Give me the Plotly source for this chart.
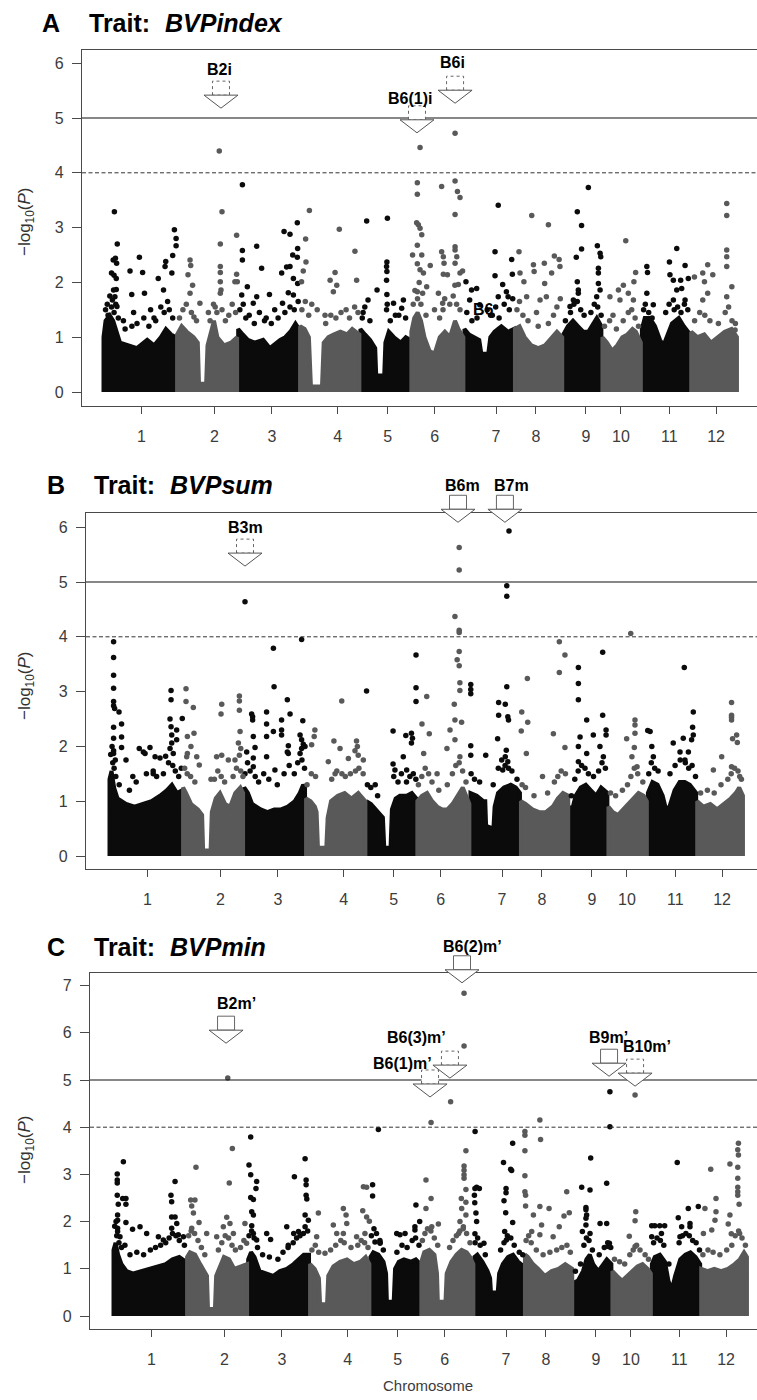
import plotly.graph_objects as go

# ---------------------------------------------------------------- genome layout
CHROM_LEN = [43.27, 35.94, 36.41, 35.50, 29.96, 31.25, 29.70, 28.44, 23.01, 23.21, 29.02, 27.53]
CHROM_TICK = [22.6, 65.5, 99.4, 138.0, 167.4, 195.1, 231.2, 254.7, 284.1, 304.7, 333.1, 360.6]
CHROM_LABEL = [str(i) for i in range(1, 13)]
CHROM_START = [sum(CHROM_LEN[:i]) for i in range(12)]
COLORS = ["#0b0b0b", "#595959"]          # odd / even chromosomes

# ------------------------------------------------ dense SNP core per chromosome
# (position within chromosome in Mb, upper edge of the dense cloud in -log10 P)
A_CORE = [
    [(0.3, 1.0), (1.5, 1.3), (4, 1.4), (6, 1.3), (8, 1.1), (10, 0.9), (15, 0.85), (20, 0.8), (26, 0.95), (30, 0.85), (34, 1.0), (37, 1.15), (40, 1.05), (43.0, 1.0)],
    [(0.3, 1.05), (3, 1.2), (6, 1.1), (10, 1.0), (12.5, 0.9), (13.2, 0.15), (17.4, 0.15), (18.2, 0.85), (20, 1.05), (22, 1.3), (24, 1.0), (28, 0.85), (32, 0.9), (35.6, 1.0)],
    [(0.3, 1.15), (3, 1.05), (6, 0.95), (10, 0.9), (15, 0.95), (19, 0.8), (21, 0.85), (25, 0.95), (28, 1.0), (31, 1.1), (34, 1.25), (36.1, 1.15)],
    [(0.3, 1.2), (3, 1.15), (5.5, 1.0), (6.7, 0.1), (13.2, 0.1), (14.2, 0.9), (17, 1.0), (20, 1.05), (24, 1.1), (28, 1.05), (31, 1.15), (35.2, 1.05)],
    [(0.3, 1.15), (3, 1.05), (6, 0.95), (9, 0.8), (9.6, 0.3), (14.3, 0.3), (15, 0.9), (17, 1.1), (20, 1.0), (24, 0.9), (27, 1.0), (29.7, 0.95)],
    [(0.3, 1.1), (2, 1.35), (4, 1.45), (6, 1.3), (8, 1.0), (11, 0.75), (14, 0.7), (17, 1.0), (20, 1.1), (23, 1.0), (26, 1.3), (28, 1.15), (30.9, 1.0)],
    [(0.3, 1.15), (3, 1.05), (6, 1.0), (9, 0.95), (10.2, 0.7), (14.3, 0.7), (15.5, 1.0), (18, 1.1), (22, 1.2), (26, 1.1), (29.4, 1.15)],
    [(0.3, 1.15), (3, 1.2), (6, 1.0), (10, 0.85), (14, 0.8), (18, 0.85), (22, 1.0), (25, 1.1), (28.1, 1.0)],
    [(0.3, 1.05), (3, 1.2), (6, 1.3), (9, 1.2), (12, 1.1), (15, 1.1), (18, 1.25), (20, 1.35), (22.7, 1.2)],
    [(0.3, 1.0), (3, 0.9), (6, 0.75), (9, 0.85), (12, 1.0), (15, 1.05), (18, 1.15), (20, 1.1), (22.9, 0.9)],
    [(0.3, 1.15), (2, 1.35), (5, 1.35), (8, 1.2), (11, 0.95), (13, 0.85), (15, 1.0), (18, 1.25), (22, 1.35), (25, 1.2), (28.7, 1.05)],
    [(0.3, 1.1), (4, 1.0), (8, 1.05), (12, 0.9), (16, 1.0), (20, 1.1), (24, 1.15), (27.2, 1.0)],
]
B_CORE = [
    [(0.3, 1.4), (1.5, 1.55), (3, 1.25), (5, 1.05), (10, 0.95), (15, 0.9), (20, 0.95), (25, 1.0), (30, 1.1), (34, 1.2), (37, 1.3), (40, 1.15), (43.0, 1.2)],
    [(0.3, 1.25), (2, 1.15), (5, 0.95), (9, 0.85), (11.5, 0.75), (12.1, 0.1), (16.5, 0.1), (17.2, 0.8), (19.5, 1.05), (22, 1.15), (25, 0.95), (28, 0.9), (31, 1.15), (34, 1.25), (35.6, 1.15)],
    [(0.3, 1.25), (2.5, 1.15), (5, 0.95), (10, 0.85), (14, 0.8), (18, 0.85), (22, 0.85), (26, 0.9), (30, 1.0), (33, 1.15), (35, 1.3), (36.1, 1.25)],
    [(0.3, 1.05), (3, 1.0), (5.5, 0.9), (6.5, 0.8), (7.3, 0.15), (12.2, 0.15), (13, 0.7), (15, 1.0), (19, 1.1), (23, 1.15), (27, 1.05), (31, 1.15), (35.2, 1.0)],
    [(0.3, 1.0), (3, 0.95), (6, 0.85), (9, 0.75), (10, 0.7), (10.8, 0.15), (14.5, 0.15), (15.3, 0.85), (17.5, 1.05), (20, 1.1), (24, 1.1), (27, 1.15), (29.7, 1.05)],
    [(0.3, 1.0), (3, 1.1), (6, 1.15), (9, 1.0), (12, 0.9), (15, 0.85), (18, 0.85), (21, 0.95), (24, 1.1), (27, 1.25), (29, 1.1), (30.9, 0.95)],
    [(0.3, 1.15), (4, 1.1), (8, 1.0), (9, 1.0), (9.5, 0.55), (13.8, 0.5), (14.5, 0.9), (16.5, 1.15), (20, 1.25), (24, 1.3), (27, 1.25), (29.4, 1.15)],
    [(0.3, 1.0), (3, 0.95), (7, 0.85), (11, 0.8), (15, 0.8), (19, 0.9), (22, 1.05), (25, 1.15), (28.1, 1.1)],
    [(0.3, 0.9), (2, 0.85), (4, 1.1), (7, 1.25), (10, 1.3), (13, 1.2), (16, 1.1), (19, 1.25), (22.7, 1.15)],
    [(0.3, 0.9), (3, 0.8), (6, 0.75), (9, 0.85), (12, 0.95), (15, 1.05), (18, 1.15), (21, 1.1), (22.9, 1.0)],
    [(0.3, 1.15), (3, 1.35), (6, 1.3), (9, 1.1), (11, 0.85), (13, 0.9), (16, 1.2), (19, 1.35), (22, 1.35), (25, 1.3), (28.7, 1.15)],
    [(0.3, 1.0), (4, 0.9), (8, 0.95), (12, 0.85), (16, 0.95), (20, 1.05), (23, 1.15), (25, 1.25), (27.2, 1.1)],
]
C_CORE = [
    [(0.3, 1.4), (1.5, 1.55), (3, 1.3), (5, 1.1), (8, 0.95), (12, 0.9), (17, 0.95), (22, 1.0), (27, 1.05), (31, 1.1), (35, 1.2), (39, 1.25), (43.0, 1.15)],
    [(0.3, 1.25), (2, 1.35), (5, 1.3), (8, 1.1), (11, 0.9), (12, 0.85), (12.6, 0.15), (16.7, 0.15), (17.4, 0.85), (19.5, 1.05), (22, 1.25), (25, 1.2), (28, 1.0), (32, 1.05), (35.6, 1.1)],
    [(0.3, 1.2), (2, 1.35), (4, 1.25), (7, 0.95), (11, 0.9), (15, 0.85), (19, 0.95), (23, 1.0), (27, 1.1), (30, 1.2), (33, 1.3), (36.1, 1.3)],
    [(0.3, 1.1), (3, 1.0), (5.5, 0.8), (6.2, 0.25), (10.3, 0.25), (11, 0.85), (14, 1.05), (18, 1.15), (22, 1.2), (26, 1.1), (30, 1.15), (33, 1.25), (35.2, 1.1)],
    [(0.3, 1.25), (2, 1.35), (5, 1.3), (8, 1.15), (9.5, 0.9), (10.0, 0.3), (14.0, 0.3), (14.8, 1.0), (17, 1.15), (20, 1.2), (24, 1.15), (27, 1.2), (29.7, 1.1)],
    [(0.3, 1.15), (2, 1.35), (5, 1.4), (8, 1.3), (9.5, 0.9), (10.0, 0.3), (14.5, 0.3), (15.2, 0.9), (18, 1.15), (21, 1.3), (24, 1.4), (27, 1.35), (29, 1.25), (30.9, 1.1)],
    [(0.3, 1.25), (2, 1.3), (5, 1.15), (8, 0.95), (9.5, 0.8), (10.0, 0.5), (14.0, 0.5), (14.8, 0.9), (17, 1.1), (20, 1.25), (23, 1.3), (26, 1.15), (29.4, 1.05)],
    [(0.3, 1.3), (2, 1.25), (5, 1.1), (8, 1.0), (12, 0.85), (16, 0.95), (20, 1.0), (24, 1.1), (28.1, 1.0)],
    [(0.3, 0.7), (3, 0.75), (6, 0.95), (8, 1.2), (10, 1.3), (12, 1.1), (15, 0.95), (18, 1.1), (20, 1.2), (22.7, 1.1)],
    [(0.3, 0.95), (3, 0.85), (6, 0.75), (9, 0.85), (12, 0.95), (15, 1.05), (18, 1.1), (21, 1.0), (22.9, 0.9)],
    [(0.3, 1.1), (2, 1.25), (5, 1.3), (8, 1.15), (10, 0.75), (12, 0.55), (14, 0.85), (17, 1.2), (20, 1.3), (23, 1.35), (26, 1.25), (28.7, 1.1)],
    [(0.3, 1.0), (4, 0.95), (8, 1.0), (12, 0.95), (16, 1.0), (20, 1.1), (23, 1.2), (25.5, 1.35), (27.2, 1.25)],
]

# ------------------------------- individual SNPs above the core (genome Mb, -log10 P)
A_HITS = {
    1: [(6.7, 3.29), (8.4, 2.70), (6.0, 2.41), (7.3, 2.44), (8.0, 2.35), (5.0, 2.17), (6.5, 2.13), (7.8, 2.07), (6.2, 1.86), (7.8, 1.87), (7.0, 1.74), (5.5, 1.68), (8.2, 1.56),
        (15.9, 2.21), (16.9, 1.78), (21.4, 2.46), (23.3, 2.18), (24.4, 1.80), (32.5, 2.07), (36.9, 2.38), (36.5, 2.29), (35.6, 1.86), (41.0, 2.49), (40.5, 2.17), (42.0, 2.96),
        (43.0, 2.80), (43.0, 2.67), (12.0, 1.30), (18.0, 1.45), (28.0, 1.50), (30.0, 1.35), (38.0, 1.65), (3.0, 1.40)],
    2: [(51.2, 2.41), (51.6, 2.31), (50.0, 2.14), (52.7, 1.95), (51.2, 1.80), (57.0, 1.62), (53.5, 1.37), (68.4, 4.40), (70.0, 3.29), (69.0, 2.70), (69.0, 2.29), (69.0, 2.18),
        (69.0, 2.01), (69.4, 1.86), (69.0, 1.80), (78.6, 2.86), (78.6, 2.15), (79.0, 2.01), (77.6, 2.01), (62.0, 1.45), (66.0, 1.55), (74.0, 1.40)],
    3: [(82.0, 3.78), (82.0, 2.58), (82.0, 2.41), (84.9, 1.92), (81.6, 1.77), (90.4, 2.66), (93.3, 2.26), (90.4, 1.74), (88.4, 1.62), (97.9, 1.78), (106.5, 2.93), (110.0, 2.88),
        (114.3, 3.09), (114.5, 2.62), (114.3, 2.46), (111.6, 2.50), (108.0, 2.28), (110.0, 2.29), (105.1, 2.17), (112.0, 2.07), (114.5, 1.98), (109.0, 1.81), (112.0, 1.77),
        (105.6, 1.62), (86.0, 1.40), (96.0, 1.35), (101.0, 1.50)],
    4: [(121.4, 3.31), (119.2, 2.79), (119.4, 2.37), (117.8, 2.21), (116.8, 2.01), (122.8, 1.60), (139.0, 2.97), (136.5, 2.18), (137.5, 1.95), (133.6, 2.04), (148.2, 2.57),
        (149.2, 2.04), (135.5, 1.83), (130.6, 1.40), (143.0, 1.50), (126.0, 1.50)],
    5: [(155.1, 3.12), (167.3, 3.17), (167.0, 2.37), (166.8, 2.29), (167.0, 2.20), (166.8, 2.04), (161.2, 1.86), (155.9, 1.68), (167.0, 1.78), (176.7, 1.68), (170.9, 1.62),
        (175.7, 1.53), (153.0, 1.45), (172.0, 1.40)],
    6: [(186.5, 4.46), (184.9, 3.82), (184.9, 3.61), (199.2, 3.75), (184.5, 3.09), (185.5, 3.05), (186.5, 2.99), (187.5, 2.87), (184.9, 2.68), (182.1, 2.50), (187.5, 2.50),
        (184.9, 2.34), (186.5, 2.23), (188.5, 2.17), (192.5, 2.31), (199.2, 2.56), (200.2, 2.47), (200.6, 2.35), (200.2, 2.15), (202.6, 2.14), (190.4, 1.92), (184.9, 1.83),
        (197.3, 1.80), (199.8, 1.62), (207.1, 4.72), (207.1, 3.85), (208.5, 3.66), (210.0, 3.55), (207.1, 3.24), (207.1, 2.65), (207.1, 2.59), (208.1, 2.47), (207.1, 2.35),
        (210.0, 2.17), (211.5, 2.21), (209.0, 1.96), (195.0, 1.50), (204.0, 1.60)],
    7: [(232.5, 3.41), (230.6, 2.56), (230.6, 2.12), (235.1, 1.96), (240.4, 2.42), (240.8, 2.15), (213.5, 2.01), (216.8, 1.86), (219.8, 1.89), (215.7, 1.68), (221.6, 1.59),
        (237.3, 1.83), (238.3, 1.74), (232.5, 1.74), (226.0, 1.50), (228.0, 1.40)],
    8: [(252.2, 3.22), (262.0, 3.05), (244.7, 2.56), (253.2, 2.32), (253.6, 2.20), (259.6, 2.35), (265.5, 2.48), (268.3, 2.42), (268.8, 2.29), (247.6, 2.01), (245.3, 2.17),
        (259.8, 1.98), (260.8, 1.74), (249.2, 1.74), (257.1, 1.68), (263.9, 2.17), (255.0, 1.45)],
    9: [(285.5, 3.73), (279.0, 3.29), (281.5, 3.04), (281.5, 2.61), (278.4, 2.46), (290.8, 2.67), (292.4, 2.53), (292.8, 2.47), (291.4, 2.26), (291.4, 2.17), (279.0, 2.01),
        (279.6, 1.86), (279.6, 1.80), (291.4, 1.98), (292.4, 1.86), (290.4, 1.74), (276.7, 1.68), (274.7, 1.56)],
    10: [(307.5, 2.76), (313.3, 2.18), (312.3, 2.01), (306.1, 1.95), (303.2, 1.86), (309.0, 1.80), (298.2, 1.74), (304.1, 1.68), (312.0, 1.68), (300.0, 1.40)],
    11: [(337.5, 2.62), (319.9, 2.29), (320.3, 2.18), (333.2, 2.37), (333.5, 2.14), (342.4, 2.31), (335.5, 2.04), (339.8, 2.04), (340.4, 1.89), (337.5, 1.86), (344.3, 2.07),
         (319.9, 1.80), (323.7, 1.59), (335.5, 1.68), (342.4, 1.68)],
    12: [(366.9, 3.44), (366.9, 3.22), (366.9, 2.59), (366.9, 2.47), (366.9, 2.29), (369.9, 1.92), (355.7, 2.32), (358.7, 2.14), (352.8, 2.17), (353.8, 2.01), (347.9, 2.10),
         (366.9, 1.74), (355.7, 1.80), (352.8, 1.68), (371.8, 1.13)],
}
B_HITS = {
    1: [(2.7, 3.91), (2.7, 3.62), (2.7, 3.30), (2.7, 3.06), (2.7, 2.82), (2.7, 2.74), (3.3, 2.69), (5.9, 2.63), (2.7, 2.35), (7.4, 2.41), (2.7, 2.15), (7.4, 2.17), (7.4, 1.98),
        (2.7, 1.92), (2.7, 1.87), (3.7, 1.75), (10.0, 1.75), (17.8, 1.96), (20.2, 1.90), (24.1, 1.98), (21.2, 1.87), (27.1, 1.81), (30.0, 1.79), (33.3, 1.82), (36.5, 3.02),
        (36.5, 2.85), (35.9, 2.50), (36.5, 2.36), (39.8, 2.30), (36.9, 2.21), (39.8, 2.12), (36.9, 2.06), (35.9, 1.96), (37.8, 1.87), (43.1, 2.51), (14.0, 1.45), (26.0, 1.5)],
    2: [(45.3, 3.05), (45.3, 2.82), (49.6, 2.71), (50.0, 2.24), (46.1, 2.18), (48.2, 2.00), (53.1, 1.66), (46.1, 1.87), (45.7, 1.81), (51.6, 1.81), (66.3, 2.77), (65.9, 2.59),
        (66.3, 1.84), (63.3, 1.81), (76.7, 2.92), (76.7, 2.83), (76.7, 2.66), (77.1, 2.27), (76.1, 2.06), (77.5, 1.96), (76.7, 1.84), (74.1, 1.75), (70.2, 1.75), (60.0, 1.4)],
    3: [(80.0, 4.64), (96.7, 3.79), (113.3, 3.95), (97.1, 3.09), (104.9, 2.85), (106.5, 2.59), (114.0, 2.47), (92.7, 2.63), (92.7, 2.41), (83.9, 2.59), (84.5, 2.54), (84.5, 2.48),
        (101.5, 2.48), (101.5, 2.30), (96.7, 2.27), (101.5, 2.21), (92.7, 2.18), (84.9, 2.18), (85.9, 1.98), (81.0, 1.90), (84.9, 1.79), (105.5, 2.01), (104.9, 1.90),
        (105.5, 1.87), (112.4, 2.21), (113.3, 2.12), (114.3, 2.04), (113.3, 1.96), (115.3, 2.00), (112.4, 1.87), (92.7, 1.81), (97.6, 1.57), (84.9, 1.63)],
    4: [(121.1, 2.30), (120.7, 2.18), (119.2, 2.03), (136.9, 2.83), (132.3, 2.10), (135.9, 1.96), (145.6, 2.10), (146.1, 2.00), (144.7, 1.92), (129.0, 1.72), (140.8, 1.78),
        (149.6, 1.75), (146.6, 1.84), (133.0, 1.5)],
    5: [(151.5, 3.01), (180.6, 3.67), (180.6, 3.07), (180.6, 2.82), (167.1, 2.28), (174.6, 2.20), (177.9, 2.24), (178.5, 2.15), (177.9, 2.06), (167.1, 1.68), (168.2, 1.57),
        (173.1, 1.81), (175.1, 1.57), (156.6, 1.30)],
    6: [(206.0, 5.63), (206.0, 5.22), (203.5, 4.37), (206.0, 4.12), (206.0, 4.08), (206.0, 3.73), (204.8, 3.58), (206.0, 3.47), (206.4, 3.16), (206.4, 3.02), (203.1, 2.77),
        (203.5, 2.48), (207.4, 2.44), (200.6, 2.30), (186.9, 2.91), (184.1, 2.41), (188.4, 2.23), (185.1, 1.87), (198.8, 1.96), (203.5, 2.12), (206.4, 1.81), (193.0, 1.5)],
    7: [(235.3, 5.93), (234.0, 4.93), (234.0, 4.74), (212.8, 3.13), (212.8, 3.04), (212.8, 2.96), (234.0, 3.09), (229.2, 2.80), (233.1, 2.77), (229.2, 2.57), (234.6, 2.54),
        (235.0, 2.48), (228.6, 2.14), (212.8, 2.01), (212.8, 1.84), (221.6, 1.84), (233.7, 1.93), (233.1, 1.81), (234.6, 1.72), (231.6, 1.57)],
    8: [(246.1, 3.24), (242.8, 2.63), (246.3, 2.44), (242.5, 2.28), (245.5, 1.87), (261.4, 2.23), (264.9, 3.35), (268.2, 3.67), (264.9, 3.91), (268.2, 1.98), (255.0, 1.45)],
    9: [(276.1, 3.44), (276.1, 3.15), (276.1, 2.85), (281.0, 2.48), (277.1, 2.17), (276.1, 2.00), (284.9, 2.21), (290.4, 3.72), (290.4, 2.57), (292.4, 2.30), (292.4, 2.21),
        (288.8, 2.00), (290.8, 1.81), (281.0, 1.87), (276.1, 1.72)],
    10: [(306.9, 4.06), (309.4, 2.48), (309.4, 2.39), (309.4, 2.24), (304.5, 2.14), (309.0, 1.98), (307.6, 1.81), (310.6, 1.63)],
    11: [(338.4, 3.44), (343.7, 2.63), (343.3, 2.35), (343.7, 2.21), (342.7, 2.12), (337.8, 2.15), (331.9, 2.06), (316.9, 2.29), (318.3, 2.27), (319.3, 2.00), (320.2, 1.81),
         (335.9, 1.90), (340.8, 1.90), (338.8, 1.75)],
    12: [(366.2, 2.80), (366.2, 2.57), (366.2, 2.53), (366.2, 2.48), (369.2, 2.21), (369.6, 2.07), (366.8, 2.14), (360.4, 1.81), (366.2, 1.63), (355.5, 1.57), (371.0, 1.45)],
}
C_HITS = {
    1: [(6.1, 3.27), (2.5, 3.01), (2.5, 2.88), (2.5, 2.82), (2.5, 2.56), (3.1, 2.37), (5.7, 2.49), (7.6, 2.49), (7.6, 2.37), (2.7, 2.14), (2.7, 2.03), (7.6, 1.98), (2.7, 1.86),
        (2.7, 1.79), (4.1, 1.68), (11.5, 1.84), (15.9, 1.89), (19.8, 1.75), (26.7, 1.68), (29.6, 1.61), (36.5, 2.85), (34.1, 2.56), (34.5, 2.42), (34.5, 2.10), (36.5, 2.10),
        (37.5, 1.96), (34.5, 1.86), (38.4, 1.72), (41.4, 1.68)],
    2: [(48.8, 3.15), (45.7, 2.46), (48.2, 2.46), (46.3, 2.33), (47.3, 2.18), (50.6, 1.98), (46.3, 1.86), (55.1, 1.75), (70.2, 3.55), (68.4, 2.82), (66.9, 2.09), (68.8, 1.96),
        (64.9, 1.89), (70.8, 1.75), (61.0, 1.68), (77.6, 1.96), (78.6, 1.54), (67.5, 5.04)],
    3: [(81.0, 3.79), (80.0, 3.20), (81.0, 2.99), (84.5, 2.85), (84.1, 2.70), (81.0, 2.51), (82.6, 2.47), (81.6, 2.21), (82.6, 2.14), (81.6, 1.91), (82.6, 1.75), (84.5, 1.61),
        (90.4, 1.75), (92.7, 1.62), (106.7, 2.95), (113.0, 3.33), (113.6, 2.88), (113.6, 2.78), (113.6, 2.56), (114.0, 2.48), (113.0, 2.14), (114.9, 2.03), (113.0, 1.89),
        (102.2, 1.89), (106.3, 1.75), (109.1, 1.79), (103.1, 1.50)],
    4: [(120.8, 2.18), (119.8, 1.68), (135.5, 2.28), (137.1, 2.14), (137.5, 1.96), (129.6, 1.93), (131.6, 1.75), (135.5, 1.75), (147.3, 2.74), (149.2, 2.73), (146.9, 2.23),
        (149.2, 2.10), (150.8, 2.01), (148.2, 1.75), (143.3, 1.68), (124.7, 1.33)],
    5: [(156.1, 3.95), (152.7, 2.78), (152.7, 2.54), (157.1, 1.56), (166.9, 1.75), (178.2, 2.35), (177.6, 1.89), (177.6, 1.82), (180.4, 2.00), (168.8, 1.72), (171.8, 1.75),
        (154.1, 1.57), (157.1, 1.54)],
    6: [(187.1, 4.10), (198.6, 4.54), (206.5, 6.84), (206.5, 5.72), (184.1, 2.88), (187.1, 2.49), (184.1, 2.28), (191.4, 1.95), (187.5, 1.89), (207.6, 3.50), (206.5, 3.18),
        (206.5, 3.09), (206.5, 2.99), (206.5, 2.92), (207.6, 2.68), (204.9, 2.49), (207.6, 2.41), (205.1, 2.28), (207.6, 2.14), (204.1, 2.00), (206.1, 1.89), (203.3, 1.75)],
    7: [(213.0, 3.91), (213.9, 2.73), (212.9, 2.70), (215.5, 2.70), (212.6, 2.56), (212.8, 2.40), (213.5, 2.18), (213.9, 2.00), (212.9, 1.74), (235.1, 3.66), (229.7, 3.25),
        (233.9, 3.11), (234.5, 3.08), (231.2, 2.70), (231.2, 2.61), (230.0, 2.44), (231.0, 2.19), (235.1, 1.98), (230.4, 1.79), (231.4, 1.61), (218.2, 1.54)],
    8: [(251.1, 4.15), (242.3, 3.91), (242.3, 3.83), (251.5, 3.74), (242.3, 3.50), (242.3, 2.97), (242.3, 2.63), (242.7, 2.56), (242.7, 2.33), (251.1, 2.32), (256.5, 2.28),
        (247.3, 2.14), (268.4, 2.19), (265.3, 2.12), (266.9, 2.63), (262.5, 1.89), (252.1, 1.93), (246.3, 1.79), (251.1, 1.72), (258.9, 1.68)],
    9: [(292.3, 4.75), (292.3, 4.01), (290.4, 2.81), (281.0, 3.35), (275.7, 2.73), (280.6, 2.67), (278.2, 2.30), (278.2, 2.25), (278.6, 2.14), (278.2, 2.07), (278.2, 1.93),
        (276.1, 1.79), (280.6, 1.75), (286.5, 1.96), (290.4, 1.96), (292.0, 1.54), (291.4, 1.47)],
    10: [(307.1, 4.68), (307.5, 2.21), (307.1, 2.02), (303.7, 1.69), (307.1, 1.47)],
    11: [(331.9, 3.25), (332.5, 2.08), (338.4, 2.28), (344.3, 2.32), (339.4, 1.96), (339.4, 1.89), (316.9, 1.91), (318.7, 1.91), (321.6, 1.91), (324.5, 1.91), (316.9, 1.68),
         (322.6, 1.75), (334.5, 1.89), (333.5, 1.68)],
    12: [(367.9, 3.66), (367.5, 3.52), (367.9, 3.41), (362.9, 3.22), (351.6, 3.11), (367.5, 3.15), (367.5, 2.92), (367.5, 2.73), (367.5, 2.63), (367.5, 2.56), (368.3, 2.37),
         (354.7, 2.49), (354.7, 2.21), (348.2, 2.28), (354.1, 2.03), (362.9, 2.14), (361.9, 1.95), (352.2, 1.82), (368.6, 1.75), (363.7, 1.74), (347.3, 1.75)],
}

# ----------------------------------- looser SNP cloud just above the core (genome Mb, -log10 P)
A_CLOUD = {
    1: [(1.5, 1.5), (2.5, 1.6), (4, 1.75), (5, 1.55), (6.5, 1.45), (7.5, 1.6), (3.5, 1.3), (9, 1.35), (13, 1.15), (17, 1.2), (20, 1.25), (24, 1.35), (27, 1.2), (31, 1.3),
        (34, 1.55), (36, 1.45), (39, 1.5), (41, 1.35)],
    2: [(45, 1.35), (47, 1.5), (49, 1.6), (52, 1.45), (55, 1.3), (63, 1.3), (65, 1.6), (67, 1.45), (70, 1.5), (72, 1.3), (76, 1.6), (78, 1.45)],
    3: [(80.5, 1.5), (82.5, 1.6), (84, 1.35), (89, 1.25), (92, 1.45), (95, 1.3), (99, 1.25), (103, 1.35), (107, 1.45), (110, 1.55), (112.5, 1.5), (114.8, 1.65)],
    4: [(117, 1.5), (119, 1.65), (121, 1.4), (131, 1.25), (134, 1.4), (137, 1.35), (140, 1.45), (145, 1.35), (148, 1.55), (150, 1.45)],
    5: [(152.5, 1.35), (154, 1.55), (157, 1.3), (166.8, 1.5), (167.2, 1.6), (169, 1.3), (174, 1.4), (178, 1.35)],
    6: [(182.5, 1.6), (183.5, 1.85), (185, 1.7), (186, 2.0), (187, 1.6), (188, 1.8), (190, 1.4), (198, 1.35), (200, 1.5), (201, 1.7), (206, 1.75), (207, 1.95), (208, 1.6), (210, 1.5)],
    7: [(214, 1.45), (217, 1.3), (220, 1.35), (229, 1.4), (231, 1.55), (233, 1.35), (236, 1.6), (239, 1.5), (241, 1.7)],
    8: [(243.5, 1.5), (245, 1.65), (247, 1.4), (250, 1.3), (256, 1.2), (262, 1.25), (265, 1.4), (267, 1.55), (269, 1.7)],
    9: [(272, 1.3), (275, 1.45), (277, 1.6), (279, 1.65), (281, 1.5), (283, 1.4), (287, 1.45), (289, 1.6), (291, 1.55), (293, 1.4)],
    10: [(295, 1.2), (298, 1.3), (302, 1.15), (306, 1.3), (309, 1.45), (311, 1.5), (313, 1.35), (315, 1.2)],
    11: [(318, 1.5), (319, 1.6), (321, 1.45), (323, 1.35), (331, 1.45), (333, 1.6), (336, 1.5), (338, 1.55), (340, 1.45), (342, 1.6), (344, 1.5)],
    12: [(348, 1.3), (351, 1.45), (354, 1.4), (357, 1.3), (362, 1.25), (366, 1.45), (368, 1.55), (370, 1.3), (372, 1.25)],
}
B_CLOUD = {
    1: [(1, 1.85), (1.8, 2.0), (2.2, 1.7), (3, 1.6), (4, 1.45), (6, 1.3), (12, 1.2), (16, 1.35), (22, 1.5), (26, 1.55), (28, 1.45), (32, 1.5), (35, 1.7), (37.5, 1.65),
        (39, 1.55), (41, 1.45), (42.5, 1.6)],
    2: [(44.5, 1.6), (46, 1.5), (48, 1.45), (50.5, 1.35), (62, 1.4), (64, 1.55), (66, 1.45), (68, 1.35), (73, 1.45), (75, 1.6), (77.5, 1.55), (78.8, 1.45)],
    3: [(80, 1.5), (81.5, 1.7), (83, 1.55), (86, 1.45), (88, 1.35), (91, 1.5), (94, 1.4), (99, 1.3), (103, 1.5), (106, 1.65), (109, 1.5), (111, 1.7), (113.5, 1.75), (115, 1.6)],
    4: [(116.5, 1.3), (119, 1.5), (121.5, 1.45), (131, 1.4), (134, 1.55), (137, 1.5), (139, 1.45), (142, 1.5), (145, 1.55), (147, 1.6), (149.5, 1.5)],
    5: [(152, 1.3), (154, 1.25), (158, 1.1), (167.5, 1.45), (170, 1.35), (172, 1.5), (175, 1.35), (177, 1.45), (179, 1.5), (180.5, 1.4)],
    6: [(182, 1.3), (184, 1.45), (186, 1.6), (188, 1.5), (190, 1.35), (194, 1.2), (199, 1.3), (202, 1.5), (204, 1.65), (206, 1.7), (208, 1.55), (210, 1.35)],
    7: [(213, 1.5), (215, 1.4), (218, 1.35), (226, 1.3), (229, 1.6), (231, 1.75), (233, 1.65), (235, 1.6), (237, 1.55), (240, 1.4)],
    8: [(243, 1.3), (245, 1.25), (250, 1.1), (258, 1.15), (262, 1.35), (264, 1.45), (266, 1.55), (268.5, 1.5)],
    9: [(272, 1.1), (274, 1.4), (276, 1.55), (278, 1.65), (280, 1.6), (282, 1.5), (285, 1.45), (288, 1.55), (290, 1.7), (292, 1.6)],
    10: [(295, 1.15), (298, 1.1), (302, 1.2), (305, 1.3), (307, 1.45), (309, 1.6), (311, 1.5), (314, 1.35)],
    11: [(317.5, 1.5), (319, 1.7), (321, 1.6), (323, 1.55), (330, 1.5), (333, 1.65), (336, 1.75), (339, 1.7), (341, 1.6), (343, 1.65), (345, 1.45)],
    12: [(348, 1.15), (352, 1.2), (356, 1.15), (360, 1.3), (364, 1.4), (366, 1.5), (368, 1.6), (370, 1.55), (372, 1.4)],
}
C_CLOUD = {
    1: [(1, 1.9), (1.8, 2.0), (2.2, 1.7), (3.5, 1.55), (5, 1.45), (7, 1.5), (10, 1.3), (14, 1.35), (18, 1.3), (22, 1.4), (25, 1.45), (28, 1.5), (31, 1.55), (33, 1.65),
        (35, 1.75), (37, 1.7), (39, 1.6), (42, 1.5)],
    2: [(44.5, 1.7), (46, 1.8), (48, 1.75), (50, 1.6), (52, 1.45), (54, 1.3), (62, 1.4), (64, 1.55), (66, 1.7), (68, 1.65), (70, 1.5), (72, 1.4), (75, 1.45), (77, 1.6)],
    3: [(80, 1.7), (81.5, 1.8), (83, 1.65), (85, 1.45), (88, 1.3), (92, 1.25), (97, 1.2), (100, 1.35), (103, 1.45), (106, 1.55), (108, 1.65), (110, 1.7), (112, 1.75), (114.5, 1.8)],
    4: [(117, 1.4), (119, 1.5), (121, 1.35), (128, 1.4), (131, 1.5), (134, 1.6), (136, 1.55), (140, 1.45), (144, 1.5), (146, 1.6), (148, 1.55), (150, 1.45)],
    5: [(152, 1.7), (153.5, 1.85), (155, 1.75), (157, 1.6), (159, 1.4), (167, 1.35), (170, 1.5), (173, 1.45), (176, 1.6), (178, 1.65), (180, 1.5)],
    6: [(182, 1.6), (183.5, 1.75), (185, 1.85), (187, 1.8), (189, 1.65), (191, 1.5), (198, 1.45), (200, 1.6), (202, 1.7), (204, 1.8), (206, 1.85), (208, 1.75), (210, 1.55)],
    7: [(213, 1.55), (214.5, 1.65), (216, 1.5), (219, 1.3), (228, 1.4), (230, 1.55), (232, 1.7), (234, 1.65), (236, 1.5), (239, 1.35), (241, 1.3)],
    8: [(243, 1.6), (244.5, 1.7), (246, 1.55), (249, 1.4), (253, 1.3), (257, 1.35), (261, 1.4), (264, 1.45), (267, 1.5), (269, 1.35)],
    9: [(272, 0.95), (275, 1.1), (277, 1.5), (278.5, 1.65), (280, 1.6), (282, 1.4), (286, 1.3), (289, 1.45), (291, 1.55), (292.8, 1.45)],
    10: [(295, 1.2), (298, 1.15), (301, 1.1), (304, 1.3), (306, 1.4), (308, 1.5), (310, 1.4), (313, 1.3), (315, 1.2)],
    11: [(318, 1.55), (320, 1.65), (322, 1.6), (324, 1.5), (327, 1.1), (333, 1.55), (335, 1.7), (337, 1.75), (339, 1.7), (341, 1.6), (343, 1.55), (345, 1.4)],
    12: [(347, 1.3), (350, 1.4), (353, 1.35), (357, 1.3), (361, 1.4), (364, 1.5), (366, 1.7), (368, 1.8), (370, 1.65), (372, 1.5)],
}

# ----------------------------------------------- QTL call-outs: name, tip, label, dotted stem
A_ARROWS = [("B2i", 69.4, 5.18, 68.8, 5.88, True),
            ("B6(1)i", 184.7, 4.73, 180.6, 5.36, True),
            ("B6i", 207.1, 5.27, 205.3, 6.02, True)]
B_ARROWS = [("B3m", 80.0, 5.29, 80.0, 5.99, True),
            ("B6m", 205.3, 6.09, 208.2, 6.77, False),
            ("B7m", 232.9, 6.09, 236.5, 6.77, False)]
C_ARROWS = [("B2m\u2019", 66.5, 5.78, 72.9, 6.63, False),
            ("B6(2)m\u2019", 205.3, 7.06, 211.2, 7.82, False),
            ("B6(3)m\u2019", 198.2, 5.04, 178.8, 5.89, True),
            ("B6(1)m\u2019", 186.5, 4.64, 170.0, 5.36, True),
            ("B9m\u2019", 291.8, 5.08, 291.2, 5.91, False),
            ("B10m\u2019", 307.1, 4.87, 314.1, 5.70, True)]
A_EXTRA = [("B6", 224.1, 1.51)]

SUGGESTIVE, SIGNIFICANT = 4, 5

# ---------------------------------------------------------------- page geometry (px)
W, H = 757, 1400
PPX = 1.70  # px per Mb
PANELS = [
    dict(letter="A", trait="BVPindex", core=A_CORE, hits=A_HITS, cloud=A_CLOUD, arrows=A_ARROWS, extra=A_EXTRA, ymax=6,
         left=82, top=50, bottom=406, zero=392, ppu=54.8, data_left=103,
         letter_x=40, trait_x=87, name_x=163, title_y=23, ytitle_y=222),
    dict(letter="B", trait="BVPsum", core=B_CORE, hits=B_HITS, cloud=B_CLOUD, arrows=B_ARROWS, extra=[], ymax=6,
         left=86, top=513, bottom=869, zero=856, ppu=54.8, data_left=109,
         letter_x=45, trait_x=92, name_x=168, title_y=485, ytitle_y=686),
    dict(letter="C", trait="BVPmin", core=C_CORE, hits=C_HITS, cloud=C_CLOUD, arrows=C_ARROWS, extra=[], ymax=7,
         left=90, top=973, bottom=1329, zero=1316, ppu=47.2, data_left=113,
         letter_x=45, trait_x=92, name_x=168, title_y=947, ytitle_y=1150),
]

TICK_FONT = dict(family="Liberation Sans Narrow, Liberation Sans, Arial", size=16, color="#3c3c3c")
LABEL_FONT = dict(family="Liberation Sans, Arial", size=16, color="#000000")
TITLE_FONT = dict(family="Liberation Sans, Arial", size=25, color="#000000")
AXIS_COLOR = "#4a4a4a"


def paper_x(p, mb):
    return (p["data_left"] + mb * PPX) / W


def paper_y(p, val):
    return 1 - (p["zero"] - val * p["ppu"]) / H


fig = go.Figure()
shapes, annotations = [], []

for i, p in enumerate(PANELS, start=1):
    xa = "x" if i == 1 else f"x{i}"
    ya = "y" if i == 1 else f"y{i}"
    xl = "xaxis" if i == 1 else f"xaxis{i}"
    yl = "yaxis" if i == 1 else f"yaxis{i}"

    x_lo = -(p["data_left"] - p["left"]) / PPX
    x_hi = x_lo + (W - p["left"]) / PPX
    y_lo = -(p["bottom"] - p["zero"]) / p["ppu"]
    y_hi = (p["zero"] - p["top"]) / p["ppu"]

    # dense core of each chromosome as a filled silhouette
    for parity in (0, 1):
        xs, ys = [], []
        for c in range(parity, 12, 2):
            s = CHROM_START[c]
            core = p["core"][c]
            xs += [s + core[0][0]] + [s + q for q, _ in core] + [s + core[-1][0], None]
            ys += [0] + [v for _, v in core] + [0, None]
        fig.add_trace(go.Scatter(x=xs, y=ys, mode="lines", fill="toself",
                                 fillcolor=COLORS[parity], line=dict(color=COLORS[parity], width=4),
                                 xaxis=xa, yaxis=ya, hoverinfo="skip", showlegend=False))

    # individual SNPs
    for parity in (0, 1):
        xs, ys = [], []
        for c in range(parity + 1, 13, 2):
            for q, v in p["cloud"][c] + p["hits"][c]:
                xs.append(q)
                ys.append(v)
        fig.add_trace(go.Scatter(x=xs, y=ys, mode="markers",
                                 marker=dict(size=5.5, color=COLORS[parity], line=dict(width=0)),
                                 xaxis=xa, yaxis=ya, hoverinfo="skip", showlegend=False))

    fig.update_layout({
        xl: dict(domain=[p["left"] / W, 1.0], range=[x_lo, x_hi], anchor=ya,
                 showgrid=False, zeroline=False, showline=True, mirror=True,
                 linecolor=AXIS_COLOR, linewidth=1.4, ticks="outside", ticklen=7,
                 tickcolor=AXIS_COLOR, tickwidth=1.2, tickvals=CHROM_TICK, ticktext=CHROM_LABEL,
                 tickfont=TICK_FONT, ticklabelstandoff=9),
        yl: dict(domain=[1 - p["bottom"] / H, 1 - p["top"] / H], range=[y_lo, y_hi], anchor=xa,
                 showgrid=False, zeroline=False, showline=True, mirror=False,
                 linecolor=AXIS_COLOR, linewidth=1.4, ticks="outside", ticklen=9,
                 tickcolor=AXIS_COLOR, tickwidth=1.2, tickvals=list(range(p["ymax"] + 1)),
                 ticktext=[str(k) for k in range(p["ymax"] + 1)], tickfont=TICK_FONT,
                 ticklabelstandoff=5),
    })

    # threshold lines
    shapes.append(dict(type="line", xref=f"{xa} domain", yref=ya, x0=0, x1=1,
                       y0=SUGGESTIVE, y1=SUGGESTIVE, line=dict(color="#333333", width=1, dash="4px,2.5px")))
    shapes.append(dict(type="line", xref=f"{xa} domain", yref=ya, x0=0, x1=1,
                       y0=SIGNIFICANT, y1=SIGNIFICANT, line=dict(color="#111111", width=1.1)))

    # block arrows (paper coordinates so they may rise above the frame)
    hw, sw = 17 / W, 8.5 / W
    hh, sh = 13 / H, 14 / H
    for name, tx, ty, lx, ly, dotted in p["arrows"]:
        px, py = paper_x(p, tx), paper_y(p, ty)
        yb, yt = py + hh, py + hh + sh
        shapes.append(dict(type="path", xref="paper", yref="paper", layer="above",
                           path=f"M{px - sw},{yb} L{px - sw},{yt} L{px + sw},{yt} L{px + sw},{yb} Z",
                           fillcolor="white",
                           line=dict(color="#666666", width=1, dash="dot" if dotted else "solid")))
        shapes.append(dict(type="path", xref="paper", yref="paper", layer="above",
                           path=f"M{px - hw},{yb} L{px + hw},{yb} L{px},{py} Z",
                           fillcolor="white", line=dict(color="#555555", width=1)))
        annotations.append(dict(xref="paper", yref="paper", x=paper_x(p, lx), y=paper_y(p, ly),
                                text=f"<b>{name}</b>", showarrow=False, font=LABEL_FONT,
                                xanchor="center", yanchor="middle"))
    for name, lx, ly in p["extra"]:
        annotations.append(dict(xref="paper", yref="paper", x=paper_x(p, lx), y=paper_y(p, ly),
                                text=f"<b>{name}</b>", showarrow=False, font=LABEL_FONT,
                                xanchor="center", yanchor="middle"))

    # panel heading
    ty_paper = 1 - p["title_y"] / H
    annotations.append(dict(xref="paper", yref="paper", x=p["letter_x"] / W, y=ty_paper,
                            text=f"<b>{p['letter']}</b>", showarrow=False, font=TITLE_FONT,
                            xanchor="left", yanchor="middle"))
    annotations.append(dict(xref="paper", yref="paper", x=p["trait_x"] / W, y=ty_paper,
                            text="<b>Trait:</b>", showarrow=False, font=TITLE_FONT,
                            xanchor="left", yanchor="middle"))
    annotations.append(dict(xref="paper", yref="paper", x=p["name_x"] / W, y=ty_paper,
                            text=f"<b><i>{p['trait']}</i></b>", showarrow=False, font=TITLE_FONT,
                            xanchor="left", yanchor="middle"))

    # y-axis title
    annotations.append(dict(xref="paper", yref="paper", x=26 / W, y=1 - p["ytitle_y"] / H,
                            text="\u2212log<sub>10</sub>(<i>P</i>)", textangle=-90, showarrow=False,
                            font=dict(family="Liberation Sans, Arial", size=17, color="#333333"),
                            xanchor="center", yanchor="middle"))

annotations.append(dict(xref="paper", yref="paper", x=428 / W, y=1 - 1385 / H, text="Chromosome",
                        showarrow=False, font=dict(family="Liberation Sans Narrow, Liberation Sans, Arial", size=15, color="#3c3c3c"),
                        xanchor="center", yanchor="middle"))

fig.update_layout(width=W, height=H, margin=dict(l=0, r=0, t=0, b=0),
                  paper_bgcolor="white", plot_bgcolor="white",
                  shapes=shapes, annotations=annotations, showlegend=False)

fig.write_html("out.html", config={"displayModeBar": False})
